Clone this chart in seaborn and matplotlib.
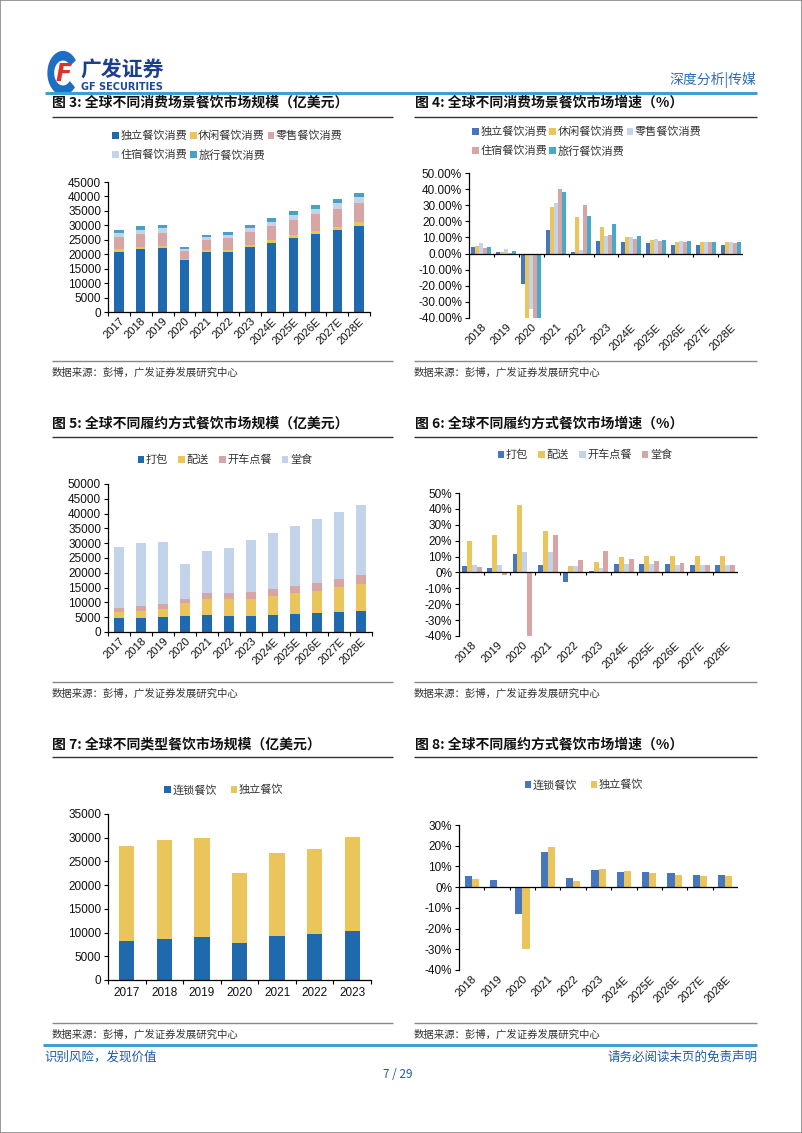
import numpy as np
import pandas as pd
import matplotlib
matplotlib.use("Agg")
import matplotlib.pyplot as plt
import seaborn as sns
from matplotlib.lines import Line2D
from matplotlib.patches import Patch, Wedge, Rectangle
from matplotlib.ticker import FuncFormatter

# ---------------- data ----------------
years_all = ['2017', '2018', '2019', '2020', '2021', '2022', '2023',
             '2024E', '2025E', '2026E', '2027E', '2028E']
years_growth = years_all[1:]
years_chain = years_all[:7]

# Fig 3: scene market size (100m USD)
s3_names = ['独立餐饮消费', '休闲餐饮消费', '零售餐饮消费', '住宿餐饮消费', '旅行餐饮消费']
s3_indep = [20900, 21800, 22000, 17900, 20600, 20900, 22400, 24000, 25600, 27000, 28400, 29900]
s3_leisure = [800, 800, 800, 600, 700, 700, 800, 900, 1000, 1000, 1100, 1200]
s3_retail = [4300, 4400, 4600, 2700, 3700, 3900, 4600, 4700, 5400, 5800, 6300, 6600]
s3_hotel = [1400, 1500, 1600, 700, 1000, 1200, 1400, 1600, 1600, 1800, 2000, 2100]
s3_travel = [900, 1200, 1100, 700, 800, 900, 1000, 1300, 1300, 1300, 1200, 1500]

# Fig 4: scene growth (%)
g4_indep = [4.3, 0.8, -18.7, 14.9, 1.2, 7.5, 7.0, 6.5, 5.6, 5.1, 5.2]
g4_leisure = [4.8, 0.7, -40.0, 29.0, 22.4, 16.7, 10.5, 8.2, 7.3, 6.9, 6.9]
g4_retail = [6.5, 2.6, -34.5, 31.1, 2.5, 11.0, 10.0, 9.0, 7.8, 7.0, 6.9]
g4_hotel = [3.2, 0.5, -40.0, 40.0, 30.0, 11.5, 9.0, 8.0, 7.2, 7.0, 6.8]
g4_travel = [3.8, 1.8, -40.0, 38.0, 23.3, 18.3, 11.0, 8.6, 7.6, 7.1, 7.1]

# Fig 5: fulfilment market size
s5_names = ['打包', '配送', '开车点餐', '堂食']
s5_takeaway = [4600, 4800, 4900, 5500, 5800, 5500, 5500, 5800, 6100, 6500, 6800, 7100]
s5_delivery = [2000, 2200, 3000, 4200, 5200, 5600, 5800, 6200, 7100, 7500, 8400, 9200]
s5_drive = [1600, 1800, 1700, 1600, 2200, 2000, 2200, 2500, 2500, 2700, 2700, 2800]
s5_dinein = [20400, 21100, 20700, 11700, 14000, 15200, 17500, 19000, 20200, 21600, 22800, 23900]

# Fig 6: fulfilment growth (%)
g6_takeaway = [4.3, 2.6, 11.4, 4.5, -6.0, 1.2, 5.2, 5.6, 5.1, 4.6, 4.8]
g6_delivery = [19.8, 23.5, 42.2, 26.3, 4.2, 6.4, 9.9, 10.5, 10.3, 10.1, 10.3]
g6_drive = [5.0, 4.6, 13.0, 12.6, 4.0, 3.0, 5.6, 5.3, 4.8, 4.6, 4.6]
g6_dinein = [3.2, -1.6, -40.0, 23.6, 7.9, 13.6, 8.2, 7.2, 5.8, 5.0, 4.8]

# Fig 7: chain vs independent size
s7_names = ['连锁餐饮', '独立餐饮']
s7_chain = [8300, 8700, 9100, 7900, 9300, 9700, 10400]
s7_indep = [20000, 20900, 20900, 14700, 17500, 18000, 19700]

# Fig 8: chain vs independent growth (%)
g8_chain = [5.6, 3.3, -12.9, 17.2, 4.4, 8.5, 7.3, 7.3, 6.6, 6.0, 5.9]
g8_indep = [4.1, 0.2, -30.0, 19.4, 2.9, 8.8, 7.8, 7.0, 5.9, 5.4, 5.4]

# ---------------- style ----------------
sns.set_style('white')
plt.rcParams['font.family'] = ['Liberation Sans', 'Noto Sans CJK SC']
plt.rcParams['axes.unicode_minus'] = False
plt.rcParams['patch.force_edgecolor'] = False

W, H = 802, 1133
fig = plt.figure(figsize=(W / 100, H / 100), dpi=100)
fig.patch.set_facecolor('white')

CJK = ['Noto Sans CJK SC', 'DejaVu Sans']
BLUE_TXT = '#1F5AA6'

C_DARK = '#1F6AAE'
C_YEL = '#E9C55C'
C_PINK = '#D8A5A5'
C_LBLUE = '#C3D4EA'
C_TEAL = '#4A9FC4'
C_MBLUE = '#4677BD'
C_CYAN = '#46ABC8'


def fx(x):
    return x / W


def fy(y):
    return 1 - y / H


def hline(x0, x1, y, color, lw):
    fig.add_artist(Line2D([fx(x0), fx(x1)], [fy(y), fy(y)], transform=fig.transFigure,
                          color=color, lw=lw, solid_capstyle='butt'))


def add_axes(l, t, r, b):
    return fig.add_axes([fx(l), fy(b), (r - l) / W, (b - t) / H])


def stacked(ax, cats, series, colors, width):
    cum = np.cumsum(np.array(series, dtype=float), axis=0)
    for i in reversed(range(len(series))):
        sns.barplot(x=cats, y=cum[i], order=cats, color=colors[i], width=width,
                    errorbar=None, saturation=1, linewidth=0, edgecolor='none', ax=ax)


def grouped(ax, cats, names, values, colors, width):
    df = pd.DataFrame({
        'year': np.tile(cats, len(names)),
        'series': np.repeat(names, len(cats)),
        'val': np.concatenate([np.array(v, dtype=float) for v in values]),
    })
    sns.barplot(data=df, x='year', y='val', hue='series', order=cats, hue_order=names,
                palette=colors, width=width, gap=0, errorbar=None, saturation=1,
                linewidth=0, edgecolor='none', legend=False, ax=ax)


def style(ax, n, ymin, ymax, step, fmt, zero_axis, rotate=True, height_px=140):
    ax.set_xlim(-0.5, n - 0.5)
    ax.set_ylim(ymin, ymax)
    ax.set_yticks(np.arange(ymin, ymax + step / 2, step))
    ax.yaxis.set_major_formatter(FuncFormatter(fmt))
    ax.set_xlabel('')
    ax.set_ylabel('')
    for s in ['top', 'right']:
        ax.spines[s].set_visible(False)
    ax.spines['left'].set_color('black')
    ax.spines['left'].set_linewidth(0.9)
    ax.tick_params(axis='y', which='major', left=True, length=3, width=0.8, direction='out',
                   labelsize=8.5, pad=2, color='black', labelcolor='#111111')
    ax.tick_params(axis='x', which='major', bottom=False, length=0, labelsize=8,
                   labelcolor='#111111', pad=3)
    if rotate:
        for lab in ax.get_xticklabels():
            lab.set_rotation(45)
            lab.set_ha('right')
            lab.set_rotation_mode('anchor')
    bounds = np.arange(-0.5, n, 1.0)
    if zero_axis:
        ax.spines['bottom'].set_visible(False)
        ax.axhline(0, color='black', lw=0.9, zorder=5)
        d = (ymax - ymin) / height_px * 3
        ax.vlines(bounds, -d, 0, color='black', lw=0.8, zorder=5)
    else:
        ax.spines['bottom'].set_color('black')
        ax.spines['bottom'].set_linewidth(0.9)
        ax.set_xticks(bounds, minor=True)
        ax.tick_params(axis='x', which='minor', bottom=True, length=3, width=0.8,
                       direction='out', color='black')
    ax.set_facecolor('white')


def legend(handles_colors, labels, loc, anchor, ncol, colsp=0.3):
    handles = [Patch(facecolor=c, edgecolor='none') for c in handles_colors]
    fig.legend(handles, labels, loc=loc, bbox_to_anchor=anchor, ncol=ncol, frameon=False,
               prop={'family': CJK, 'size': 8}, handlelength=0.6, handleheight=0.6,
               handletextpad=0.15, columnspacing=colsp, labelspacing=0.75,
               borderpad=0, borderaxespad=0, labelcolor='#333333')


fmt_int = lambda v, p: f'{int(round(v))}'
fmt_pct2 = lambda v, p: f'{v:.2f}%'
fmt_pct0 = lambda v, p: f'{int(round(v))}%'

# ---------------- page decorations ----------------
fig.add_artist(Rectangle((0, 0), 1, 1, transform=fig.transFigure, fill=False,
                         edgecolor='#888888', lw=1.2))
# logo
fig.add_artist(Wedge((fx(63), fy(73)), 0.0195, 35, 320, width=0.0085,
                     transform=fig.transFigure, facecolor='#1C6FC4', edgecolor='none'))
fig.text(fx(64), fy(74), 'F', color='#E0322B', fontsize=17, fontweight='bold', style='italic',
         ha='center', va='center', family=['DejaVu Sans'])
fig.text(fx(80), fy(70), '广发证券', color='#1B3E8F', fontsize=15, fontweight='bold',
         ha='left', va='center', family=CJK)
fig.text(fx(81), fy(87), 'GF SECURITIES', color='#1B4A9C', fontsize=7, fontweight='bold',
         ha='left', va='center', family=['DejaVu Sans'])
fig.text(fx(756), fy(80), '深度分析|传媒', color='#2F6DB2', fontsize=10, ha='right',
         va='center', family=CJK)
hline(45, 757, 93, '#3E9FD0', 2.2)

titles = [
    (52, 103, '图 3: 全球不同消费场景餐饮市场规模（亿美元）'),
    (415, 103, '图 4: 全球不同消费场景餐饮市场增速（%）'),
    (52, 424, '图 5: 全球不同履约方式餐饮市场规模（亿美元）'),
    (415, 424, '图 6: 全球不同履约方式餐饮市场增速（%）'),
    (52, 745, '图 7: 全球不同类型餐饮市场规模（亿美元）'),
    (415, 745, '图 8: 全球不同履约方式餐饮市场增速（%）'),
]
for x, y, t in titles:
    fig.text(fx(x), fy(y), t, fontsize=10, fontweight='bold', ha='left', va='center',
             family=CJK, color='#111111')

for y in (117, 437, 757):
    hline(52, 393, y, '#333333', 1.0)
    hline(414, 757, y, '#333333', 1.0)
for y in (361, 682, 1023):
    hline(52, 393, y, '#888888', 1.0)
    hline(414, 757, y, '#888888', 1.0)
for y in (373, 694, 1035):
    fig.text(fx(52), fy(y), '数据来源：彭博，广发证券发展研究中心', fontsize=7.5, ha='left',
             va='center', family=CJK, color='#333333')
    fig.text(fx(414), fy(y), '数据来源：彭博，广发证券发展研究中心', fontsize=7.5, ha='left',
             va='center', family=CJK, color='#333333')

hline(43, 757, 1045, '#3E9FD0', 2.2)
fig.text(fx(44), fy(1057), '识别风险，发现价值', fontsize=9, ha='left', va='center',
         family=CJK, color=BLUE_TXT)
fig.text(fx(757), fy(1057), '请务必阅读末页的免责声明', fontsize=9, ha='right', va='center',
         family=CJK, color=BLUE_TXT)
fig.text(fx(398), fy(1075), '7 / 29', fontsize=8.5, ha='center', va='center',
         family=CJK, color=BLUE_TXT)

# ---------------- Fig 3 ----------------
ax3 = add_axes(108, 182, 370, 312)
c3 = [C_DARK, C_YEL, C_PINK, C_LBLUE, C_TEAL]
stacked(ax3, years_all, [s3_indep, s3_leisure, s3_retail, s3_hotel, s3_travel], c3, 0.42)
style(ax3, 12, 0, 45000, 5000, fmt_int, False)
order3 = [0, 3, 1, 4, 2]
legend([c3[i] for i in order3], [s3_names[i] for i in order3], 'upper left',
       (fx(112), fy(131)), 3, colsp=0.25)

# ---------------- Fig 4 ----------------
ax4 = add_axes(469, 173, 743, 318)
c4 = [C_MBLUE, C_YEL, C_LBLUE, C_PINK, C_CYAN]
grouped(ax4, years_growth, s3_names, [g4_indep, g4_leisure, g4_retail, g4_hotel, g4_travel],
        c4, 0.8)
style(ax4, 11, -40, 50, 10, fmt_pct2, True, height_px=145)
legend([c4[i] for i in order3], [s3_names[i] for i in order3], 'upper left',
       (fx(472), fy(127)), 3, colsp=0.2)

# ---------------- Fig 5 ----------------
ax5 = add_axes(108, 484, 372, 632)
c5 = [C_DARK, C_YEL, C_PINK, C_LBLUE]
stacked(ax5, years_all, [s5_takeaway, s5_delivery, s5_drive, s5_dinein], c5, 0.42)
style(ax5, 12, 0, 50000, 5000, fmt_int, False)
legend(c5, s5_names, 'center', (fx(225), fy(460)), 4, colsp=0.9)

# ---------------- Fig 6 ----------------
ax6 = add_axes(459, 493, 738, 636)
c6 = [C_MBLUE, C_YEL, C_LBLUE, C_PINK]
grouped(ax6, years_growth, s5_names, [g6_takeaway, g6_delivery, g6_drive, g6_dinein], c6, 0.78)
style(ax6, 11, -40, 50, 10, fmt_pct0, True, height_px=143)
legend(c6, s5_names, 'center', (fx(585), fy(455)), 4, colsp=0.9)

# ---------------- Fig 7 ----------------
ax7 = add_axes(108, 814, 371, 980)
c7 = [C_DARK, C_YEL]
stacked(ax7, years_chain, [s7_chain, s7_indep], c7, 0.41)
style(ax7, 7, 0, 35000, 5000, fmt_int, False, rotate=False)
ax7.tick_params(axis='x', labelsize=8.5, pad=5)
legend(c7, s7_names, 'center', (fx(224), fy(790)), 2, colsp=1.2)

# ---------------- Fig 8 ----------------
ax8 = add_axes(459, 825, 738, 970)
c8 = [C_MBLUE, C_YEL]
grouped(ax8, years_growth, s7_names, [g8_chain, g8_indep], c8, 0.56)
style(ax8, 11, -40, 30, 10, fmt_pct0, True, height_px=145)
legend(c8, s7_names, 'center', (fx(584), fy(785)), 2, colsp=1.2)

fig.savefig('out.png', dpi=100, facecolor='white')
